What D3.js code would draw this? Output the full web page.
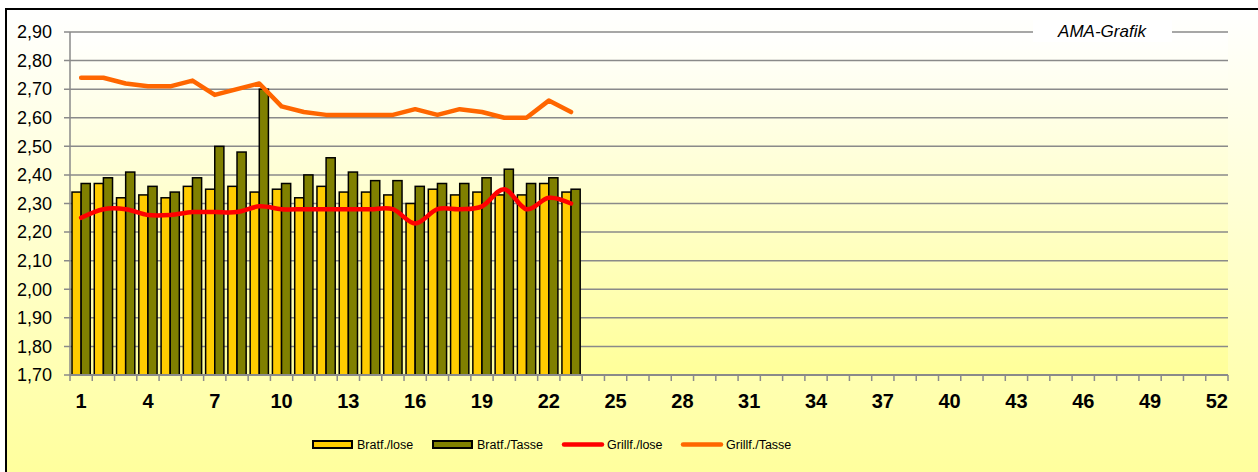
<!doctype html>
<html>
<head>
  <meta charset="UTF-8">
  <title>AMA-Grafik</title>
  <script src="https://d3js.org/d3.v7.min.js"></script>
  <style>
    body { margin: 0; background: #fff; }
    text { font-family: Arial, "Liberation Sans", sans-serif; }
  </style>
</head>
<body>
  <script>
    // Kalenderwochen 1..52
    var weeks = d3.range(1, 53);
    var tickWeeks = d3.range(1, 53, 3);
    var yTicks = d3.range(1.70, 2.901, 0.10);

    var bratfLose  = [2.34, 2.37, 2.32, 2.33, 2.32, 2.36, 2.35, 2.36, 2.34, 2.35, 2.32, 2.36,
                      2.34, 2.34, 2.33, 2.30, 2.35, 2.33, 2.34, 2.33, 2.33, 2.37, 2.34];
    var bratfTasse = [2.37, 2.39, 2.41, 2.36, 2.34, 2.39, 2.50, 2.48, 2.70, 2.37, 2.40, 2.46,
                      2.41, 2.38, 2.38, 2.36, 2.37, 2.37, 2.39, 2.42, 2.37, 2.39, 2.35];
    var grillLose  = [2.25, 2.28, 2.28, 2.26, 2.26, 2.27, 2.27, 2.27, 2.29, 2.28, 2.28, 2.28,
                      2.28, 2.28, 2.28, 2.23, 2.28, 2.28, 2.29, 2.35, 2.28, 2.32, 2.30];
    var grillTasse = [2.74, 2.74, 2.72, 2.71, 2.71, 2.73, 2.68, 2.70, 2.72, 2.64, 2.62, 2.61,
                      2.61, 2.61, 2.61, 2.63, 2.61, 2.63, 2.62, 2.60, 2.60, 2.66, 2.62];

    var barSeries = ["Bratf./lose", "Bratf./Tasse"];
    var barColors = ["#FFCC00", "#808000"];

    var W = 1258, H = 472;
    var plot = { left: 70, right: 1228, top: 32, bottom: 375 };

    var svg = d3.select("body").append("svg").attr("width", W).attr("height", H);
    var defs = svg.append("defs");

    var g1 = defs.append("linearGradient").attr("id", "outerGrad")
      .attr("x1", 0).attr("y1", 0).attr("x2", 0).attr("y2", 1);
    g1.append("stop").attr("offset", "0%").attr("stop-color", "#ffffff");
    g1.append("stop").attr("offset", "100%").attr("stop-color", "#FFFF99");

    var g2 = defs.append("linearGradient").attr("id", "plotGrad")
      .attr("x1", 0).attr("y1", 0).attr("x2", 0).attr("y2", 1);
    g2.append("stop").attr("offset", "0%").attr("stop-color", "#ffffff");
    g2.append("stop").attr("offset", "100%").attr("stop-color", "#FFFF99");

    // outer chart area
    svg.append("rect")
      .attr("x", 6).attr("y", 9).attr("width", W + 10).attr("height", H + 10)
      .attr("fill", "url(#outerGrad)")
      .attr("stroke", "#000").attr("stroke-width", 2);

    // plot area
    svg.append("rect")
      .attr("x", plot.left).attr("y", plot.top)
      .attr("width", plot.right - plot.left).attr("height", plot.bottom - plot.top)
      .attr("fill", "url(#plotGrad)");

    var x = d3.scaleBand().domain(weeks).range([plot.left, plot.right]).padding(0);
    var x1 = d3.scaleBand().domain(barSeries).range([0, x.bandwidth()]).paddingOuter(0.22).paddingInner(0);
    var y = d3.scaleLinear().domain([1.70, 2.90]).range([plot.bottom, plot.top]);

    // gridlines
    svg.append("g").selectAll("line").data(yTicks).enter().append("line")
      .attr("x1", plot.left - 6).attr("x2", plot.right)
      .attr("y1", function(d) { return y(d); })
      .attr("y2", function(d) { return y(d); })
      .attr("stroke", "#8a8a8a").attr("stroke-width", 1.5);

    // y labels
    svg.append("g").selectAll("text").data(yTicks).enter().append("text")
      .attr("x", 52).attr("y", function(d) { return y(d); })
      .attr("dy", "0.35em").attr("text-anchor", "end")
      .attr("font-size", 18).attr("fill", "#000")
      .text(function(d) { return d3.format(".2f")(d).replace(".", ","); });

    // title box
    svg.append("rect").attr("x", 1033).attr("y", 20).attr("width", 139).attr("height", 22).attr("fill", "#fff");
    svg.append("text").attr("x", 1102).attr("y", 37).attr("text-anchor", "middle")
      .attr("font-size", 17).attr("font-style", "italic").text("AMA-Grafik");

    // bars
    var barData = [];
    bratfLose.forEach(function(v, i) {
      barData.push({ week: weeks[i], s: barSeries[0], v: v, c: barColors[0] });
      barData.push({ week: weeks[i], s: barSeries[1], v: bratfTasse[i], c: barColors[1] });
    });
    svg.append("g").selectAll("rect").data(barData).enter().append("rect")
      .attr("x", function(d) { return x(d.week) + x1(d.s); })
      .attr("y", function(d) { return y(d.v); })
      .attr("width", x1.bandwidth())
      .attr("height", function(d) { return y(1.70) - y(d.v); })
      .attr("fill", function(d) { return d.c; })
      .attr("stroke", "#000").attr("stroke-width", 1.5);

    // axes lines
    svg.append("line").attr("x1", plot.left).attr("x2", plot.left)
      .attr("y1", plot.top).attr("y2", plot.bottom)
      .attr("stroke", "#8a8a8a").attr("stroke-width", 1.5);
    svg.append("line").attr("x1", plot.left).attr("x2", plot.right)
      .attr("y1", plot.bottom).attr("y2", plot.bottom)
      .attr("stroke", "#8a8a8a").attr("stroke-width", 2);
    svg.append("g").selectAll("line").data(d3.range(0, 53)).enter().append("line")
      .attr("x1", function(i) { return plot.left + i * x.step(); })
      .attr("x2", function(i) { return plot.left + i * x.step(); })
      .attr("y1", plot.bottom).attr("y2", plot.bottom + 6)
      .attr("stroke", "#8a8a8a").attr("stroke-width", 1.5);

    // x labels
    svg.append("g").selectAll("text").data(tickWeeks).enter().append("text")
      .attr("x", function(d) { return x(d) + x.bandwidth() / 2; })
      .attr("y", 408).attr("text-anchor", "middle")
      .attr("font-size", 20).attr("font-weight", "bold")
      .text(function(d) { return d; });

    // lines
    var cx = function(d, i) { return x(weeks[i]) + x.bandwidth() / 2; };
    var smooth = d3.line().x(cx).y(function(d) { return y(d); }).curve(d3.curveCardinal.tension(0));
    var straight = d3.line().x(cx).y(function(d) { return y(d); });

    svg.append("path").attr("d", smooth(grillLose))
      .attr("fill", "none").attr("stroke", "#FF0000").attr("stroke-width", 4.5)
      .attr("stroke-linejoin", "round").attr("stroke-linecap", "round");
    svg.append("path").attr("d", straight(grillTasse))
      .attr("fill", "none").attr("stroke", "#FF6600").attr("stroke-width", 4.5)
      .attr("stroke-linejoin", "round").attr("stroke-linecap", "round");

    // legend
    var legend = [
      { name: "Bratf./lose", type: "bar", color: barColors[0], x: 313, tx: 357 },
      { name: "Bratf./Tasse", type: "bar", color: barColors[1], x: 433, tx: 477 },
      { name: "Grillf./lose", type: "line", color: "#FF0000", x: 564, tx: 607 },
      { name: "Grillf./Tasse", type: "line", color: "#FF6600", x: 683, tx: 726 }
    ];
    var lg = svg.append("g").selectAll("g").data(legend).enter().append("g");
    lg.filter(function(d) { return d.type === "bar"; }).append("rect")
      .attr("x", function(d) { return d.x; }).attr("y", 441)
      .attr("width", 39).attr("height", 7)
      .attr("fill", function(d) { return d.color; })
      .attr("stroke", "#000").attr("stroke-width", 2);
    lg.filter(function(d) { return d.type === "line"; }).append("line")
      .attr("x1", function(d) { return d.x; }).attr("x2", function(d) { return d.x + 38; })
      .attr("y1", 444.5).attr("y2", 444.5)
      .attr("stroke", function(d) { return d.color; }).attr("stroke-width", 4.5)
      .attr("stroke-linecap", "round");
    lg.append("text")
      .attr("x", function(d) { return d.tx; }).attr("y", 449)
      .attr("font-size", 12.5).text(function(d) { return d.name; });
  </script>
</body>
</html>
